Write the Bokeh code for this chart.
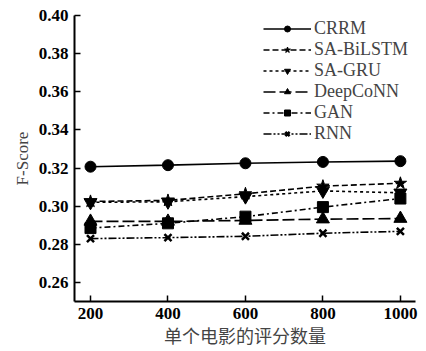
from bokeh.plotting import figure
from bokeh.models import Range1d, FixedTicker, NumeralTickFormatter, Legend, LegendItem
from bokeh.embed import file_html
from bokeh.resources import INLINE

x_vals = [200, 400, 600, 800, 1000]
crrm = [0.3207, 0.3215, 0.3225, 0.3232, 0.3236]
sa_bilstm = [0.3025, 0.3030, 0.3065, 0.3105, 0.3120]
sa_gru = [0.3020, 0.3023, 0.3050, 0.3080, 0.3070]
deepconn = [0.2920, 0.2920, 0.2925, 0.2932, 0.2935]
gan = [0.2885, 0.2910, 0.2945, 0.2995, 0.3040]
rnn = [0.2830, 0.2835, 0.2842, 0.2858, 0.2868]
names = ["CRRM", "SA-BiLSTM", "SA-GRU", "DeepCoNN", "GAN", "RNN"]
y_ticks = [0.26, 0.28, 0.30, 0.32, 0.34, 0.36, 0.38, 0.40]

series = [crrm, sa_bilstm, sa_gru, deepconn, gan, rnn]
dashes = ["solid", "6 3", "3 3", "12 4", "6 3 2 3", "8 2 2 2 2 2"]
markers = ["circle", "star", "inverted_triangle", "triangle", "square", "x"]
sizes = [11, 13, 13, 13, 11, 10]

p = figure(width=426, height=351, output_backend="svg", toolbar_location=None,
           x_range=Range1d(158.7, 1039), y_range=Range1d(0.25, 0.40),
           min_border_left=74, min_border_right=11, min_border_top=15, min_border_bottom=50)
p.outline_line_color = None
p.grid.visible = False
p.background_fill_color = "white"

serif = "Liberation Serif"
items = []
for name, ys, d, m, s in zip(names, series, dashes, markers, sizes):
    l = p.line(x_vals, ys, line_color="black", line_width=1.6, line_dash=d)
    if m == "x":
        sc = p.scatter(x_vals, ys, marker=m, size=s, line_color="black", line_width=2.5)
    else:
        sc = p.scatter(x_vals, ys, marker=m, size=s, fill_color="black", line_color="black")
    items.append(LegendItem(label=name, renderers=[l, sc]))

legend = Legend(items=items, location=(189, 157), border_line_color=None,
                background_fill_alpha=0, label_text_font=serif, label_text_font_size="18px",
                label_text_line_height=0.9,
                glyph_width=48, glyph_height=15, label_height=15, spacing=0, padding=0,
                label_standoff=3, margin=0)
p.add_layout(legend)

for ax in (p.xaxis[0], p.yaxis[0]):
    ax.axis_line_color = "black"
    ax.axis_line_width = 2
    ax.major_tick_line_width = 1.5
    ax.major_tick_in = 6
    ax.major_tick_out = 0
    ax.minor_tick_line_color = None
    ax.major_label_text_font = serif
    ax.major_label_text_font_style = "bold"
    ax.major_label_text_font_size = "17px"
    ax.major_label_text_color = "black"

p.xaxis.ticker = FixedTicker(ticks=x_vals)
p.yaxis.ticker = FixedTicker(ticks=y_ticks)
p.yaxis.formatter = NumeralTickFormatter(format="0.00")
p.xaxis.major_label_standoff = 6
p.yaxis.major_label_standoff = 6

p.xaxis.axis_label = "单个电影的评分数量"
p.xaxis.axis_label_text_font = "Noto Sans CJK SC"
p.xaxis.axis_label_text_font_style = "normal"
p.xaxis.axis_label_text_font_size = "18px"
p.xaxis.axis_label_standoff = 0
p.yaxis.axis_label = "F-Score"
p.yaxis.axis_label_text_font = serif
p.yaxis.axis_label_text_font_style = "normal"
p.yaxis.axis_label_text_font_size = "17px"
p.yaxis.axis_label_standoff = 4

open("out.html", "w").write(file_html(p, INLINE))
